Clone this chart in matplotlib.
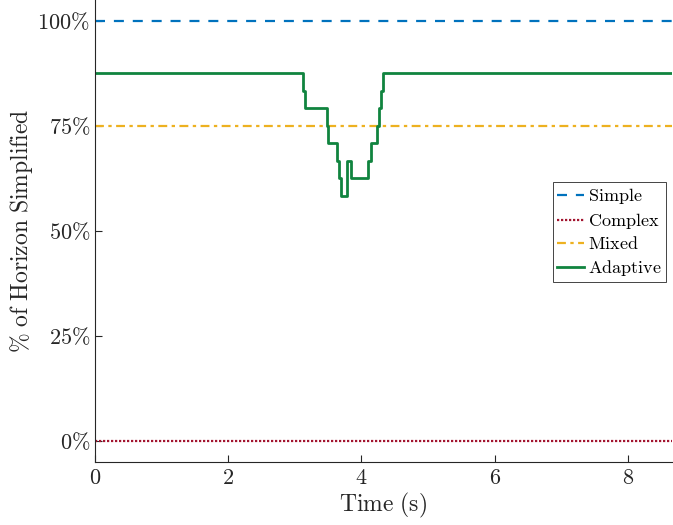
import numpy as np
import matplotlib
matplotlib.use('Agg')
import matplotlib.pyplot as plt
from matplotlib.ticker import FuncFormatter

plt.rcParams['mathtext.fontset'] = 'cm'
plt.rcParams['font.family'] = 'serif'
plt.rcParams['font.serif'] = ['DejaVu Serif']

t_end = 8.66

# fixed-strategy share of the horizon (%)
simple_pct = 100.0
complex_pct = 0.0
mixed_pct = 75.0

# adaptive share, step changes (time in s, value in %)
adaptive_t = [0.0, 3.12, 3.15, 3.49, 3.50, 3.64, 3.67, 3.69, 3.78, 3.85,
              4.10, 4.14, 4.23, 4.27, 4.29, 4.32, t_end]
adaptive_v = [87.5, 83.33, 79.17, 75.0, 70.83, 66.67, 62.5, 58.33, 66.67, 62.5,
              66.67, 70.83, 75.0, 79.17, 83.33, 87.5, 87.5]

DPI = 100
fig = plt.figure(figsize=(673/DPI, 525/DPI), dpi=DPI)
ax = fig.add_axes([0.141, 0.1206, 0.8575, 0.8794])

ax.plot([0, t_end], [simple_pct]*2, '--', color='#0072BD', lw=1.6,
        dashes=(4.5, 4), label=r'$\mathrm{Simple}$')
ax.plot([0, t_end], [complex_pct]*2, ':', color='#A2142F', lw=1.6,
        dashes=(1, 0.8), label=r'$\mathrm{Complex}$')
ax.plot([0, t_end], [mixed_pct]*2, '-.', color='#EDB120', lw=1.6,
        dashes=(4, 2, 1.5, 2), label=r'$\mathrm{Mixed}$')
ax.plot(adaptive_t, adaptive_v, '-', color='#10843F', lw=2.0,
        drawstyle='steps-post', label=r'$\mathrm{Adaptive}$')

ax.set_xlim(0, t_end)
ax.set_ylim(-5, 105)
ax.set_xticks([0, 2, 4, 6, 8])
ax.set_yticks([0, 25, 50, 75, 100])
ax.xaxis.set_major_formatter(FuncFormatter(lambda v, p: r'$%d$' % v))
ax.yaxis.set_major_formatter(FuncFormatter(lambda v, p: r'$%d\%%$' % v))
ax.tick_params(direction='in', length=5, width=0.8, labelsize=16, colors='#262626')
for s in ['top', 'right']:
    ax.spines[s].set_visible(False)
for s in ['left', 'bottom']:
    ax.spines[s].set_color('#262626')
    ax.spines[s].set_linewidth(0.8)

ax.set_xlabel(r'$\mathrm{Time\ (s)}$', fontsize=17, color='#262626', labelpad=2)
ax.set_ylabel(r'$\mathrm{\%\ of\ Horizon\ Simplified}$', fontsize=17,
              color='#262626', labelpad=2)

leg = ax.legend(loc='upper right', bbox_to_anchor=(0.99, 0.606), fontsize=13,
                handlelength=1.5, handletextpad=0.2, borderpad=0.25,
                labelspacing=0.25, fancybox=False, framealpha=1,
                borderaxespad=0)
leg.get_frame().set_edgecolor('#262626')
leg.get_frame().set_linewidth(0.6)

plt.savefig('out.png', dpi=DPI)
